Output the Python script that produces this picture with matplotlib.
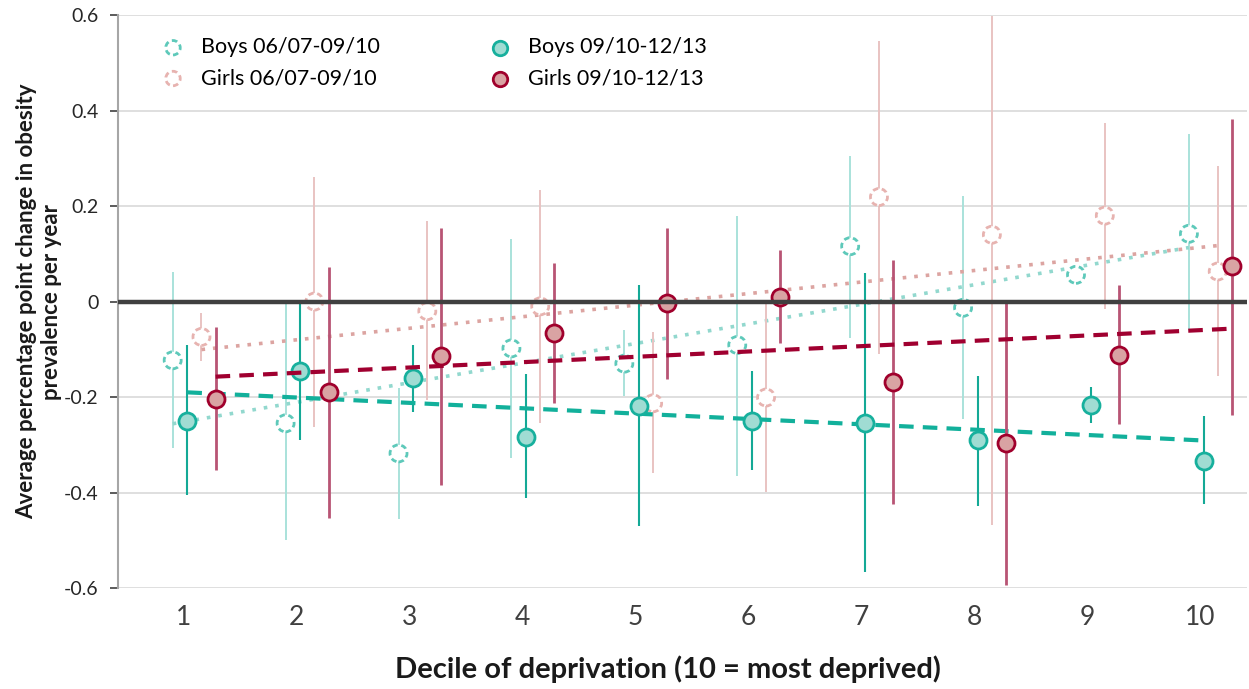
import numpy as np
import matplotlib.pyplot as plt

deciles = np.arange(1, 11)

# Boys 06/07-09/10
boys_a = [-0.123, -0.255, -0.318, -0.098, -0.130, -0.091, 0.116, -0.013, 0.056, 0.142]
boys_a_lo = [-0.307, -0.500, -0.456, -0.328, -0.198, -0.365, -0.076, -0.247, 0.040, -0.059]
boys_a_hi = [0.063, 0.000, -0.180, 0.131, -0.059, 0.180, 0.305, 0.222, 0.072, 0.351]

# Boys 09/10-12/13
boys_b = [-0.250, -0.146, -0.161, -0.283, -0.219, -0.250, -0.255, -0.291, -0.217, -0.334]
boys_b_lo = [-0.406, -0.291, -0.232, -0.412, -0.470, -0.353, -0.567, -0.428, -0.255, -0.425]
boys_b_hi = [-0.091, 0.000, -0.091, -0.152, 0.035, -0.146, 0.059, -0.155, -0.178, -0.240]

# Girls 06/07-09/10
girls_a = [-0.074, 0.000, -0.020, -0.010, -0.213, -0.201, 0.219, 0.140, 0.180, 0.063]
girls_a_lo = [-0.125, -0.262, -0.206, -0.255, -0.360, -0.399, -0.109, -0.468, -0.015, -0.155]
girls_a_hi = [-0.024, 0.262, 0.168, 0.234, -0.064, 0.000, 0.546, 0.598, 0.374, 0.284]

# Girls 09/10-12/13
girls_b = [-0.205, -0.190, -0.113, -0.065, -0.003, 0.009, -0.169, -0.297, -0.111, 0.074]
girls_b_lo = [-0.353, -0.454, -0.384, -0.212, -0.162, -0.087, -0.425, -0.594, -0.257, -0.237]
girls_b_hi = [-0.053, 0.073, 0.155, 0.081, 0.155, 0.107, 0.088, 0.000, 0.035, 0.382]

labels = ["Boys 06/07-09/10", "Girls 06/07-09/10", "Boys 09/10-12/13", "Girls 09/10-12/13"]

plt.rcParams['font.family'] = ['Lato', 'DejaVu Sans']

fig = plt.figure(figsize=(12.49, 6.89), dpi=100)
ax = fig.add_axes([0.0945, 0.1466, 0.9035, 0.8314])


def draw(y, lo, hi, off, face, edge, bar, trend, ls_edge, ls_trend, lw_bar, lw_trend, label, z):
    x = deciles + off
    y = np.array(y)
    err = [y - np.array(lo), np.array(hi) - y]
    ax.errorbar(x, y, yerr=err, fmt='none', ecolor=bar, elinewidth=lw_bar, capsize=0, zorder=z)
    # linear trend line over the series' own range
    k, b = np.polyfit(x, y, 1)
    ax.plot(x[[0, -1]], k * x[[0, -1]] + b, color=trend, lw=lw_trend, linestyle=ls_trend,
            zorder=z + 0.5)
    ax.scatter(x, y, s=150, facecolors=face, edgecolors=edge, linewidths=2,
               linestyles=ls_edge, zorder=z + 1, label=label)


draw(boys_a, boys_a_lo, boys_a_hi, -0.1, 'white', '#5ec9ba', '#a9e2da', '#92d8ce',
     (0, (2.0, 1.3)), (0, (1, 2.2)), 1.4, 2.6, labels[0], 2)
draw(girls_a, girls_a_lo, girls_a_hi, 0.155, 'white', '#e7b3b0', '#e9c3c2', '#dca4a1',
     (0, (2.0, 1.3)), (0, (1, 2.2)), 1.4, 2.6, labels[1], 3)
draw(boys_b, boys_b_lo, boys_b_hi, 0.03, '#a0dcd3', '#17b09d', '#14a996', '#12b09b',
     'solid', (0, (3.5, 2.2)), 1.5, 3.0, labels[2], 4)
draw(girls_b, girls_b_lo, girls_b_hi, 0.28, '#d9a3a3', '#a0002c', '#b85474', '#a00030',
     'solid', (0, (3.5, 2.2)), 2.0, 3.0, labels[3], 5)

ax.axhline(0, color='#404040', lw=3.2, zorder=6)

ax.set_xlim(0.416, 10.41)
ax.set_ylim(-0.6, 0.6)
ax.set_yticks([-0.6, -0.4, -0.2, 0, 0.2, 0.4, 0.6])
ax.set_yticklabels(['-0.6', '-0.4', '-0.2', '0', '0.2', '0.4', '0.6'])
ax.set_xticks(deciles)
ax.set_xticklabels([str(d) for d in deciles])
ax.grid(axis='y', color='#d9d9d9', lw=1.2)
ax.set_axisbelow(True)
for s in ['top', 'right', 'bottom']:
    ax.spines[s].set_visible(False)
ax.spines['left'].set_color('#a6a6a6')
ax.spines['left'].set_linewidth(1.5)
ax.tick_params(axis='y', labelsize=14, colors='#404040', length=6, width=1.2,
               labelcolor='#262626', pad=8)
ax.tick_params(axis='x', labelsize=19, length=0, labelcolor='#404040', pad=12)

ax.set_xlabel('Decile of deprivation (10 = most deprived)', fontsize=21, fontweight='bold',
              color='#1a1a1a')
ax.xaxis.set_label_coords(0.4876, -0.118)
ax.set_ylabel('Average percentage point change in obesity\nprevalence per year', fontsize=16,
              fontweight='bold', color='#1a1a1a')
ax.yaxis.set_label_coords(-0.05, 0.5)

ax.legend(loc='upper left', bbox_to_anchor=(0.022, 0.995), ncol=2, frameon=False, fontsize=15.5,
          columnspacing=5.1, handlelength=1.0, handletextpad=0.8, labelspacing=0.5,
          markerscale=0.85)

fig.savefig('out.png', dpi=100)
